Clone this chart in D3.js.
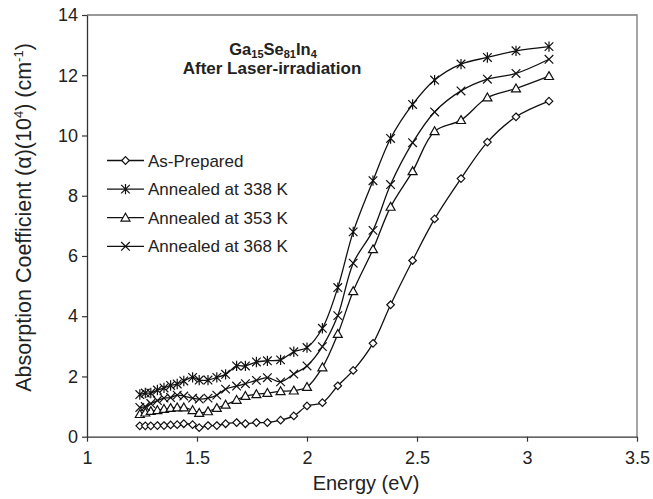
<!DOCTYPE html>
<html>
<head>
<meta charset="utf-8">
<script src="https://cdn.jsdelivr.net/npm/d3@7/dist/d3.min.js"></script>
<style>
  body { margin: 0; background: #fff; }
  svg { font-family: "Liberation Sans", Arial, sans-serif; }
</style>
</head>
<body>
<div id="chart"></div>
<script>
// photon energies (eV), 1000 nm -> 400 nm in 20 nm steps
const energy = [1.24, 1.265, 1.29, 1.32, 1.35, 1.38, 1.41, 1.44, 1.48, 1.51, 1.55, 1.59, 1.63, 1.68, 1.72, 1.77,
    1.82, 1.88, 1.94, 2.0, 2.07, 2.14, 2.21, 2.30, 2.38, 2.48, 2.58, 2.70, 2.82, 2.95, 3.10];

const asPrepared = [0.36, 0.36, 0.36, 0.37, 0.37, 0.39, 0.40, 0.43, 0.40, 0.30, 0.37, 0.37, 0.43, 0.47, 0.43, 0.47,
    0.47, 0.55, 0.69, 1.02, 1.13, 1.69, 2.20, 3.10, 4.38, 5.85, 7.23, 8.57, 9.78, 10.62, 11.14];
const annealed338 = [1.40, 1.45, 1.45, 1.55, 1.62, 1.70, 1.75, 1.85, 1.97, 1.88, 1.88, 1.97, 2.07, 2.35, 2.35, 2.48,
    2.52, 2.55, 2.82, 2.96, 3.60, 4.95, 6.80, 8.50, 9.90, 11.03, 11.84, 12.37, 12.59, 12.81, 12.95];
const annealed353 = [0.75, 0.80, 0.85, 0.88, 0.92, 0.95, 0.97, 0.97, 0.88, 0.79, 0.84, 0.95, 1.06, 1.22, 1.35, 1.41,
    1.45, 1.51, 1.53, 1.65, 2.30, 3.41, 4.83, 6.22, 7.63, 8.81, 10.14, 10.51, 11.26, 11.56, 11.97];
const annealed368 = [0.97, 1.00, 1.10, 1.20, 1.28, 1.30, 1.38, 1.35, 1.28, 1.25, 1.28, 1.38, 1.58, 1.68, 1.76, 1.87,
    1.96, 1.82, 2.08, 2.35, 2.99, 4.02, 5.76, 6.85, 8.37, 9.76, 10.78, 11.48, 11.87, 12.06, 12.53];

const seriesNames = ["As-Prepared", "Annealed at 338 K", "Annealed at 353 K", "Annealed at 368 K"];
const seriesValues = [asPrepared, annealed338, annealed353, annealed368];
const seriesMarkers = ["diamond", "asterisk", "triangle", "cross"];

const xTicks = [1, 1.5, 2, 2.5, 3, 3.5];
const yTicks = [0, 2, 4, 6, 8, 10, 12, 14];

const width = 653, height = 499;
const margin = {top: 15, right: 16, bottom: 63, left: 87};

const svg = d3.select("#chart").append("svg")
    .attr("width", width)
    .attr("height", height);

const x = d3.scaleLinear().domain([1, 3.5]).range([margin.left, width - margin.right]);
const y = d3.scaleLinear().domain([0, 14]).range([height - margin.bottom + 0.7, margin.top]);

// frame on top and right
svg.append("path")
    .attr("d", `M${x(1)},${y(14)}H${x(3.5)}V${y(0)}`)
    .attr("fill", "none")
    .attr("stroke", "#777")
    .attr("stroke-width", 1.3);

const xAxis = svg.append("g")
    .attr("transform", `translate(0,${y(0)})`)
    .call(d3.axisBottom(x).tickValues(xTicks).tickSize(5).tickSizeOuter(0).tickFormat(d3.format("")));
const yAxis = svg.append("g")
    .attr("transform", `translate(${x(1)},0)`)
    .call(d3.axisLeft(y).tickValues(yTicks).tickSize(5).tickSizeOuter(0));

[xAxis, yAxis].forEach(g => {
    g.select(".domain").attr("stroke", "#333").attr("stroke-width", 1.3);
    g.selectAll(".tick line").attr("stroke", "#333").attr("stroke-width", 1.2);
    g.selectAll("text").attr("font-size", 18).attr("fill", "#222").attr("font-family", "Liberation Sans, Arial, sans-serif");
});
xAxis.selectAll("text").attr("dy", "1.05em");
yAxis.selectAll("text").attr("dx", "-0.05em");

// marker shapes
function marker(type, s) {
    if (type === "diamond") return `M0,${-s}L${s},0L0,${s}L${-s},0Z`;
    if (type === "triangle") return `M0,${-s}L${s},${s * 0.75}L${-s},${s * 0.75}Z`;
    if (type === "cross") return `M${-s},${-s}L${s},${s}M${-s},${s}L${s},${-s}`;
    return `M${-s},${-s}L${s},${s}M${-s},${s}L${s},${-s}M0,${-s * 1.2}V${s * 1.2}`;
}
const markerSize = {diamond: 3.8, triangle: 4.5, cross: 4.3, asterisk: 4.3};

const line = d3.line()
    .x((d, i) => x(energy[i]))
    .y(d => y(d))
    .curve(d3.curveCatmullRom);

seriesValues.forEach((vals, k) => {
    const type = seriesMarkers[k];
    const g = svg.append("g");
    g.append("path")
        .attr("d", line(vals))
        .attr("fill", "none")
        .attr("stroke", "#111")
        .attr("stroke-width", 1.3);
    g.selectAll("path.m")
        .data(vals)
        .join("path")
        .attr("class", "m")
        .attr("transform", (d, i) => `translate(${x(energy[i])},${y(d)})`)
        .attr("d", marker(type, markerSize[type]))
        .attr("fill", type === "diamond" || type === "triangle" ? "#fff" : "none")
        .attr("stroke", "#111")
        .attr("stroke-width", 1.2);
});

// legend
const legend = svg.append("g").attr("transform", "translate(107,160.5)");
seriesNames.forEach((name, k) => {
    const type = seriesMarkers[k];
    const row = legend.append("g").attr("transform", `translate(0,${k * 28.6})`);
    row.append("line").attr("x1", 0).attr("x2", 37).attr("stroke", "#111").attr("stroke-width", 1.3);
    row.append("path")
        .attr("transform", "translate(18.5,0)")
        .attr("d", marker(type, markerSize[type]))
        .attr("fill", type === "diamond" || type === "triangle" ? "#fff" : "none")
        .attr("stroke", "#111")
        .attr("stroke-width", 1.2);
    row.append("text")
        .attr("x", 41)
        .attr("dy", "0.36em")
        .attr("font-size", 17)
        .attr("fill", "#222")
        .text(name);
});

// title
const title = svg.append("text")
    .attr("x", 273).attr("y", 55)
    .attr("text-anchor", "middle")
    .attr("font-size", 16.5).attr("font-weight", "bold").attr("fill", "#222");
title.append("tspan").text("Ga");
title.append("tspan").attr("font-size", 11).attr("dy", 3).text("15");
title.append("tspan").attr("dy", -3).text("Se");
title.append("tspan").attr("font-size", 11).attr("dy", 3).text("81");
title.append("tspan").attr("dy", -3).text("In");
title.append("tspan").attr("font-size", 11).attr("dy", 3).text("4");

svg.append("text")
    .attr("x", 272).attr("y", 73.5)
    .attr("text-anchor", "middle")
    .attr("font-size", 17).attr("font-weight", "bold").attr("fill", "#222")
    .text("After Laser-irradiation");

// axis titles
svg.append("text")
    .attr("x", 366).attr("y", 490)
    .attr("text-anchor", "middle")
    .attr("font-size", 20).attr("fill", "#222")
    .text("Energy (eV)");

const yTitle = svg.append("text")
    .attr("transform", "translate(31,217.5) rotate(-90)")
    .attr("text-anchor", "middle")
    .attr("font-size", 21.5).attr("fill", "#222");
yTitle.append("tspan").text("Absorption Coefficient (α)(10");
yTitle.append("tspan").attr("font-size", 13).attr("dy", -8).text("4");
yTitle.append("tspan").attr("dy", 8).text(") (cm");
yTitle.append("tspan").attr("font-size", 13).attr("dy", -8).text("-1");
yTitle.append("tspan").attr("dy", 8).text(")");
</script>
</body>
</html>
